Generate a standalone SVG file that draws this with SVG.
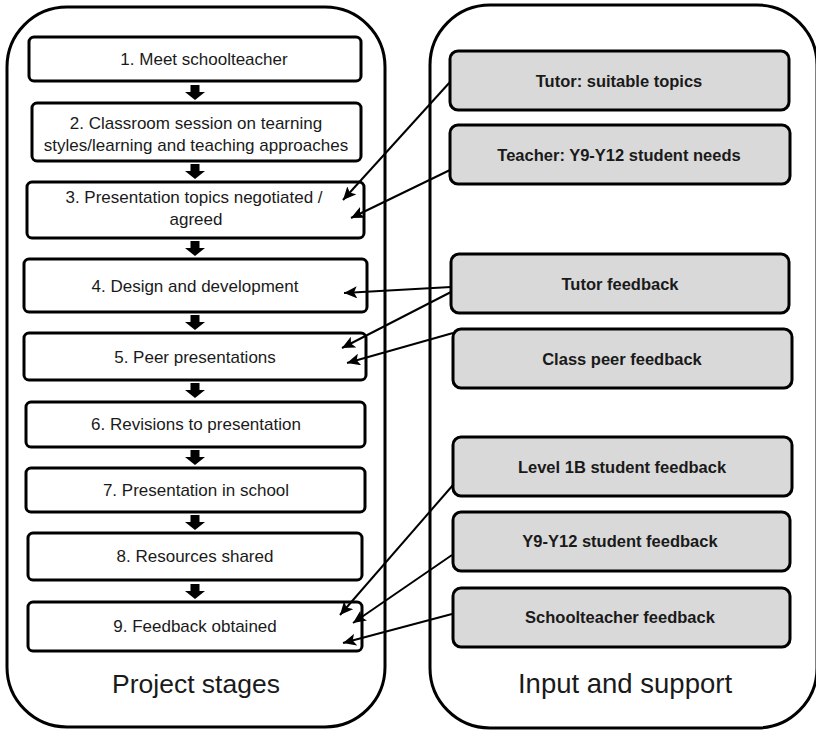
<svg xmlns="http://www.w3.org/2000/svg" xmlns:xlink="http://www.w3.org/1999/xlink" width="816" height="730" viewBox="0 0 816 730">
<style>
.container{fill:#fff;stroke:#000;stroke-width:3}
.stage{fill:#fff;stroke:#000;stroke-width:3}
.input{fill:#d9d9d9;stroke:#000;stroke-width:3}
.st{font-family:"Liberation Sans",Arial,sans-serif;font-size:17px;fill:#1a1a1a;text-anchor:middle}
.it{font-family:"Liberation Sans",Arial,sans-serif;font-size:16.5px;font-weight:bold;fill:#1a1a1a;text-anchor:middle}
.title{font-family:"Liberation Sans",Arial,sans-serif;font-size:26.5px;fill:#1a1a1a;text-anchor:middle}
.conn{stroke:#000;stroke-width:2;fill:none;marker-end:url(#ah)}
</style>
<defs>
<marker id="ah" markerUnits="userSpaceOnUse" markerWidth="14" markerHeight="12" refX="13" refY="6" orient="auto">
<path d="M0,0 L13,6 L0,12 L3,6 z" fill="#000"/>
</marker>
<path id="blk" d="M-4.5,0 H4.5 V7 H10 L0,15 L-10,7 H-4.5 Z" fill="#000"/>
</defs>
<rect width="816" height="730" fill="#fff"/>

<g id="project-stages">
<rect class="container" x="7" y="7" width="378" height="720" rx="60" ry="60"/>
<text class="title" x="196" y="693">Project stages</text>
</g>
<g id="input-support">
<rect class="container" x="430" y="5" width="387" height="723" rx="60" ry="60"/>
<text class="title" x="625" y="693" style="font-size:27.5px">Input and support</text>
</g>

<g id="stage1"><rect class="stage" x="29" y="37" width="332" height="44" rx="5"/><text class="st" x="204" y="65">1. Meet schoolteacher</text></g>
<g id="stage2"><rect class="stage" x="32" y="103" width="329" height="58" rx="5"/><text class="st" x="196" y="129">2. Classroom session on tearning</text><text class="st" x="196" y="151">styles/learning and teaching approaches</text></g>
<g id="stage3"><rect class="stage" x="27" y="182" width="337" height="56" rx="5"/><text class="st" x="194" y="203">3. Presentation topics negotiated /</text><text class="st" x="196" y="225">agreed</text></g>
<g id="stage4"><rect class="stage" x="24" y="259" width="343" height="53" rx="5"/><text class="st" x="195" y="292">4. Design and development</text></g>
<g id="stage5"><rect class="stage" x="24" y="333" width="342" height="47" rx="5"/><text class="st" x="195" y="363">5. Peer presentations</text></g>
<g id="stage6"><rect class="stage" x="26" y="402" width="339" height="45" rx="5"/><text class="st" x="196" y="430">6. Revisions to presentation</text></g>
<g id="stage7"><rect class="stage" x="26" y="468" width="339" height="44" rx="5"/><text class="st" x="196" y="496">7. Presentation in school</text></g>
<g id="stage8"><rect class="stage" x="28" y="533" width="334" height="47" rx="5"/><text class="st" x="195" y="562">8. Resources shared</text></g>
<g id="stage9"><rect class="stage" x="28" y="602" width="334" height="49" rx="5"/><text class="st" x="195" y="632">9. Feedback obtained</text></g>

<g id="in1"><rect class="input" x="450" y="51" width="339" height="59" rx="8"/><text class="it" x="619" y="87">Tutor: suitable topics</text></g>
<g id="in2"><rect class="input" x="450" y="125" width="340" height="59" rx="8"/><text class="it" x="619" y="161">Teacher: Y9-Y12 student needs</text></g>
<g id="in3"><rect class="input" x="451" y="254" width="338" height="59" rx="8"/><text class="it" x="620" y="290">Tutor feedback</text></g>
<g id="in4"><rect class="input" x="453" y="329" width="339" height="59" rx="8"/><text class="it" x="622" y="365">Class peer feedback</text></g>
<g id="in5"><rect class="input" x="453" y="437" width="339" height="59" rx="8"/><text class="it" x="622" y="473">Level 1B student feedback</text></g>
<g id="in6"><rect class="input" x="453" y="512" width="337" height="59" rx="8"/><text class="it" x="620" y="547">Y9-Y12 student feedback</text></g>
<g id="in7"><rect class="input" x="453" y="588" width="337" height="59" rx="8"/><text class="it" x="620" y="623">Schoolteacher feedback</text></g>

<g id="connectors">
<use xlink:href="#blk" x="195" y="85"/>
<use xlink:href="#blk" x="195" y="164"/>
<use xlink:href="#blk" x="195" y="241"/>
<use xlink:href="#blk" x="195" y="315"/>
<use xlink:href="#blk" x="195" y="383"/>
<use xlink:href="#blk" x="195" y="450"/>
<use xlink:href="#blk" x="195" y="515"/>
<use xlink:href="#blk" x="195" y="584"/>
<line class="conn" x1="450" y1="82" x2="343" y2="200"/>
<line class="conn" x1="450" y1="170" x2="351" y2="218"/>
<line class="conn" x1="451" y1="287" x2="344" y2="293"/>
<line class="conn" x1="451" y1="292" x2="342" y2="348"/>
<line class="conn" x1="453" y1="333" x2="347" y2="363"/>
<line class="conn" x1="453" y1="485" x2="340" y2="615"/>
<line class="conn" x1="452" y1="555" x2="353" y2="623"/>
<line class="conn" x1="452" y1="614" x2="343" y2="643"/>
</g>
</svg>
